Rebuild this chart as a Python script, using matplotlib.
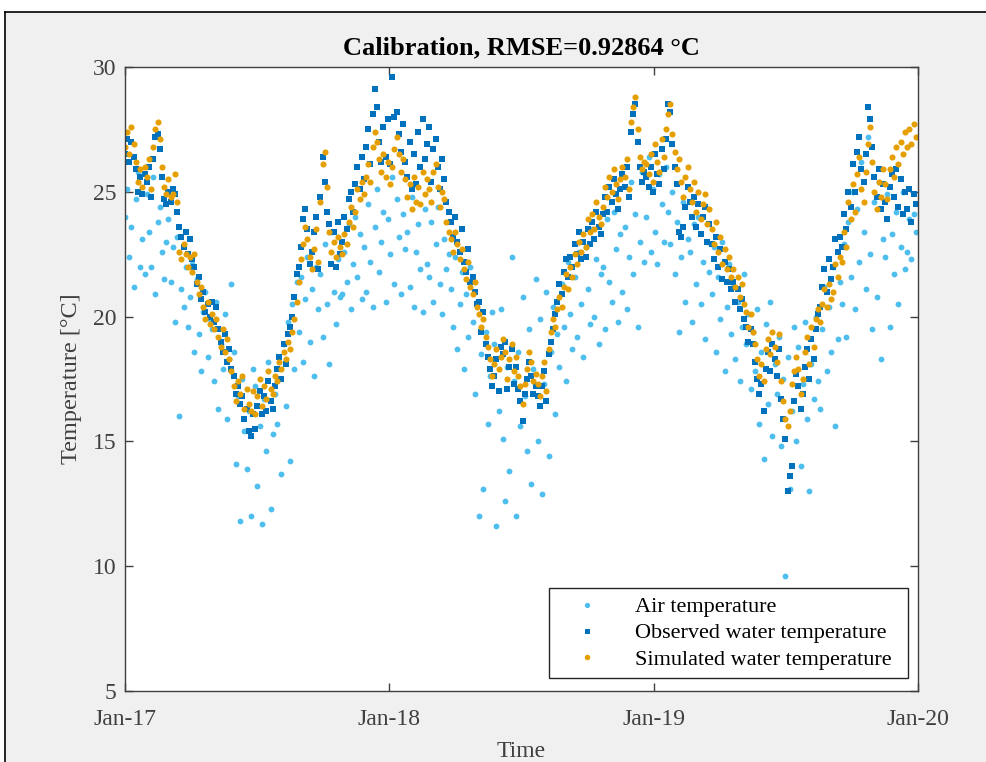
import numpy as np
import matplotlib
matplotlib.use('Agg')
import matplotlib.pyplot as plt
import matplotlib.dates as mdates
from matplotlib.patches import Rectangle
from matplotlib.lines import Line2D

# Samples every 3 days starting 1 Jan 2017 (one line = 30 days)
start_date = '2017-01-01'
step_days = 3

air_temp = [
    24.0, 25.1, 22.4, 23.6, 21.2, 24.7, 25.8, 22.0, 23.1, 21.7,
    24.9, 23.4, 22.0, 25.6, 20.9, 23.8, 24.4, 22.6, 21.5, 23.0,
    23.9, 21.4, 22.8, 19.8, 23.2, 16.0, 21.1, 20.4, 22.0, 19.6,
    20.8, 22.1, 18.6, 21.5, 19.3, 17.8, 20.2, 21.0, 18.4, 19.9,
    19.5, 17.4, 20.6, 16.3, 18.9, 17.9, 20.1, 15.9, 18.3, 21.3,
    18.6, 14.1, 16.8, 11.8, 17.5, 15.4, 13.9, 16.2, 12.0, 17.9,
    17.2, 13.2, 15.6, 11.7, 16.7, 14.6, 18.2, 12.3, 15.3, 16.9,
    15.7, 17.5, 13.7, 18.9, 16.4, 19.8, 14.2, 20.5, 17.9, 21.4,
    19.4, 21.6, 18.2, 20.7, 22.4, 19.0, 21.1, 17.6, 22.0, 20.3,
    21.7, 19.2, 22.9, 20.5, 18.1, 23.4, 21.0, 19.7, 22.3, 20.8,
    20.9, 22.6, 21.4, 23.7, 20.3, 22.1, 24.0, 21.6, 23.3, 20.7,
    22.8, 21.0, 24.5, 22.2, 20.4, 23.6, 25.1, 21.8, 23.0, 24.2,
    20.6, 23.9, 22.5, 25.6, 21.3, 24.7, 23.2, 20.9, 24.1, 22.7,
    23.4, 21.2, 24.8, 20.4, 22.6, 23.7, 21.9, 20.2, 24.3, 22.1,
    21.6, 23.8, 20.6, 22.9, 24.4, 21.3, 20.1, 23.1, 21.9, 22.5,
    21.1, 19.6, 22.4, 18.7, 20.5, 21.8, 17.9, 20.9, 19.2, 22.0,
    19.8, 16.9, 20.6, 12.0, 18.5, 13.1, 19.4, 15.7, 17.6, 20.2,
    18.9, 11.6, 16.2, 20.3, 15.1, 12.6, 18.0, 13.8, 22.4, 17.4,
    12.0, 18.6, 15.6, 20.8, 16.8, 14.6, 19.5, 13.3, 17.9, 21.5,
    15.0, 19.9, 12.9, 17.3, 21.0, 14.4, 18.6, 20.4, 16.1, 19.3,
    18.0, 21.3, 19.6, 17.4, 22.2, 20.1, 18.7, 21.6, 19.2, 22.6,
    20.5, 18.4, 22.8, 21.1, 19.7, 23.5, 20.0, 22.3, 18.9, 21.7,
    22.0, 19.5, 23.9, 21.4, 20.6, 24.2, 22.7, 19.8, 23.3, 21.0,
    23.6, 20.3, 22.4, 25.4, 21.7, 24.1, 19.6, 23.0, 25.8, 22.2,
    24.0, 26.4, 22.6, 25.1, 23.4, 22.1, 25.7, 24.5, 23.0, 26.0,
    24.2, 22.9, 25.0, 21.7, 23.8, 19.4, 22.4, 24.6, 20.6, 23.1,
    22.6, 19.8, 23.7, 21.3, 24.0, 20.5, 22.2, 19.1, 23.0, 21.8,
    20.9, 22.8, 18.6, 21.6, 19.9, 23.0, 17.8, 20.4, 22.1, 19.3,
    21.2, 18.3, 20.6, 17.4, 19.6, 21.7, 18.9, 20.1, 17.1, 19.4,
    17.8, 20.3, 15.7, 18.6, 14.3, 19.7, 16.5, 20.6, 15.2, 18.1,
    16.9, 19.2, 14.8, 17.5, 9.6, 18.4, 13.1, 16.2, 19.6, 15.0,
    18.8, 14.0, 17.3, 19.8, 15.9, 13.0, 18.1, 16.7, 20.0, 17.4,
    16.3, 19.5, 21.2, 17.8, 20.4, 18.6, 22.0, 15.6, 19.1, 21.4,
    20.5, 22.9, 19.2, 23.8, 21.6, 25.0, 20.3, 24.3, 22.2, 26.2,
    23.4, 21.1, 27.2, 22.5, 19.5, 24.6, 20.8, 25.4, 18.3, 23.1,
    22.4, 24.9, 19.6, 23.3, 21.7, 24.2, 20.5, 22.8, 25.0, 21.9,
    22.6, 23.9, 22.3, 24.1, 23.4,
]

observed_temp = [
    26.5, 27.1, 26.2, 27.0, 26.4, 25.9, 25.0, 25.6, 24.9, 25.7,
    25.4, 26.0, 24.8, 26.3, 27.2, 27.3, 26.7, 25.6, 24.7, 24.5,
    25.0, 24.6, 25.1, 24.9, 24.2, 23.6, 23.2, 22.8, 23.4, 22.5,
    23.1, 22.3, 22.0, 21.3, 21.6, 20.7, 21.0, 20.2, 20.5, 20.0,
    20.6, 19.8, 20.4, 19.5, 19.0, 18.6, 19.3, 18.2, 18.7, 17.9,
    17.6, 16.9, 17.2, 16.5, 16.8, 15.9, 16.3, 15.4, 15.2, 16.1,
    15.5, 16.4, 17.0, 16.1, 16.8, 16.2, 17.4, 16.6, 16.3, 17.2,
    17.9, 18.4, 17.5, 18.9, 18.1, 19.3, 19.6, 20.0, 20.8, 21.7,
    22.0, 22.8, 23.9, 24.3, 23.5, 22.1, 22.6, 23.4, 24.0, 21.9,
    24.8, 26.4, 25.4, 24.2, 23.7, 22.1, 23.4, 22.0, 23.8, 22.5,
    23.0, 24.0, 23.5, 24.7, 25.0, 24.2, 25.3, 26.0, 25.1, 26.4,
    25.5, 26.8, 27.5, 26.1, 28.1, 29.1, 28.4, 27.0, 26.2, 27.6,
    26.4, 27.9, 26.1, 29.6, 28.0, 28.2, 27.3, 26.6, 27.7, 26.2,
    25.6, 27.0, 25.1, 26.5, 25.3, 27.4, 26.0, 27.9, 26.3, 26.9,
    27.6, 25.4, 26.7, 27.1, 26.0, 25.1, 26.3, 25.5, 24.6, 24.2,
    23.8, 23.2, 24.0, 23.0, 22.6, 23.5, 22.2, 21.8, 22.7, 21.4,
    21.6, 21.0, 20.5, 20.6, 19.4, 20.2, 18.9, 18.4, 17.9, 17.2,
    17.6, 18.3, 17.0, 18.8, 18.5, 19.0, 17.1, 18.0, 18.7, 17.3,
    18.0, 17.1, 16.6, 15.8, 16.9, 17.5, 18.2, 17.6, 16.9, 17.2,
    16.8, 16.4, 17.2, 17.8, 16.6, 18.5, 19.0, 19.5, 20.1, 20.6,
    21.3, 20.9, 21.8, 22.3, 21.6, 22.4, 22.0, 22.9, 22.5, 23.4,
    22.3, 23.0, 22.4, 23.5, 22.9, 23.8, 23.1, 24.2, 23.6, 23.3,
    24.1, 24.8, 24.2, 25.2, 24.6, 25.5, 24.9, 24.3, 25.1, 25.7,
    25.2, 26.0, 24.8, 27.4, 28.1, 28.5, 27.0, 26.0, 25.4, 25.8,
    25.6, 25.2, 26.0, 25.0, 26.5, 25.7, 25.3, 26.7, 25.9, 27.1,
    28.5, 28.2, 26.9, 26.0, 25.3, 23.4, 23.2, 23.6, 24.4, 25.2,
    24.6, 24.0, 24.8, 23.6, 24.5, 23.3, 24.0, 24.4, 23.0, 23.7,
    22.9, 22.3, 23.2, 22.0, 22.7, 21.5, 22.2, 21.4, 21.9, 21.1,
    21.4, 20.6, 21.1, 20.3, 20.7, 19.9, 19.6, 19.0, 19.5, 18.9,
    18.2, 17.5, 16.9, 17.3, 16.2, 17.9, 18.6, 17.8, 18.9, 18.3,
    17.6, 18.7, 16.7, 15.9, 15.1, 13.0, 13.6, 14.0, 16.6, 17.7,
    17.2, 16.3, 16.9, 18.0, 18.7, 17.5, 19.1, 18.3, 19.5, 20.1,
    20.4, 21.2, 21.9, 21.0, 22.3, 21.5, 22.0, 23.1, 22.6, 23.2,
    22.8, 24.1, 23.5, 25.0, 24.4, 26.1, 25.0, 26.6, 27.2, 25.9,
    25.4, 26.5, 28.4, 27.9, 26.8, 25.6, 24.8, 25.9, 24.3, 25.3,
    24.6, 23.9, 25.2, 25.7, 24.8, 25.9, 24.4, 25.5, 24.1, 25.0,
    24.3, 25.1, 23.8, 24.9, 24.5,
]

simulated_temp = [
    26.8, 27.4, 26.5, 27.6, 26.9, 26.2, 25.4, 25.9, 25.2, 26.0,
    25.6, 26.3, 25.1, 26.8, 27.5, 27.8, 27.1, 26.0, 25.2, 24.9,
    25.5, 24.8, 24.9, 25.7, 24.6, 22.6, 22.3, 22.9, 22.5, 22.0,
    22.4, 21.8, 22.5, 21.4, 20.9, 21.2, 20.4, 19.9, 20.6, 19.7,
    20.1, 19.5, 19.9, 19.2, 18.8, 19.5, 18.6, 19.1, 18.3, 17.8,
    17.2, 16.6, 17.4, 16.9, 17.6, 16.3, 17.1, 16.5, 16.2, 17.0,
    16.1, 16.8, 17.5, 16.4, 17.2, 16.7, 17.8, 17.1, 16.9, 17.6,
    17.4, 18.2, 17.9, 18.6, 18.3, 19.0, 18.7, 19.4, 19.9, 20.6,
    21.4, 22.3, 22.9, 23.6, 23.1, 22.4, 21.9, 22.7, 23.5, 22.2,
    24.6, 26.1, 26.6, 25.2, 23.4, 22.6, 23.0, 22.4, 23.2, 22.8,
    22.5, 23.3, 22.9, 23.8, 24.4, 23.6, 24.2, 25.1, 24.7, 25.4,
    24.9, 25.6, 26.1, 25.4, 26.8, 27.4, 27.0, 26.3, 25.8, 26.5,
    25.6, 26.2, 25.3, 26.0, 26.7, 27.2, 26.5, 25.8, 26.3, 25.5,
    24.8, 25.3, 24.3, 25.6, 24.6, 25.2, 24.5, 25.8, 24.9, 25.5,
    25.1, 24.6, 25.8, 26.1, 25.2, 24.4, 25.0, 24.7, 23.8, 23.4,
    23.1, 22.6, 23.4, 22.9, 22.3, 22.7, 21.9, 21.5, 22.2, 21.2,
    20.9, 21.4, 20.4, 20.1, 19.6, 19.9, 19.2, 18.8, 18.3, 17.6,
    18.1, 18.7, 17.9, 18.4, 19.1, 18.6, 17.5, 18.3, 18.9, 17.8,
    18.4, 17.6, 17.2, 16.5, 17.3, 17.9, 18.6, 18.2, 17.4, 17.7,
    17.3, 16.8, 17.6, 18.2, 17.0, 18.7, 19.4, 19.9, 19.6, 20.3,
    20.8, 20.4, 21.2, 21.7, 21.1, 22.0, 21.6, 22.5, 22.1, 23.0,
    22.6, 23.3, 22.8, 23.9, 23.4, 24.1, 23.5, 24.6, 24.0, 23.7,
    24.4, 25.2, 24.8, 25.6, 25.0, 25.9, 25.3, 24.7, 25.5, 26.0,
    25.6, 26.3, 25.1, 27.8, 28.4, 28.8, 27.5, 26.4, 25.9, 26.2,
    26.1, 25.7, 26.5, 25.4, 26.9, 26.2, 25.8, 27.1, 26.4, 27.5,
    28.1, 28.5, 27.3, 26.6, 25.9, 26.3, 25.4, 24.8, 25.6, 26.0,
    25.1, 24.6, 25.4, 24.2, 25.0, 23.9, 24.5, 24.9, 23.7, 24.3,
    23.5, 22.9, 23.8, 22.6, 23.2, 22.1, 22.7, 21.9, 22.4, 21.6,
    21.9, 21.2, 21.6, 20.8, 21.3, 20.5, 20.2, 19.6, 20.1, 19.4,
    18.9, 18.3, 17.6, 18.1, 17.4, 18.7, 19.1, 18.5, 19.4, 18.8,
    18.2, 19.3, 17.4, 16.6, 15.9, 15.6, 16.2, 17.3, 17.8, 18.4,
    17.9, 16.9, 17.5, 18.6, 19.2, 18.1, 19.6, 18.8, 19.9, 20.3,
    19.8, 20.5, 21.1, 20.4, 21.3, 20.7, 21.0, 22.1, 21.6, 22.4,
    22.2, 23.4, 22.8, 24.6, 23.9, 25.3, 24.2, 25.7, 26.4, 25.1,
    24.6, 25.8, 26.9, 27.6, 26.2, 25.0, 24.3, 25.4, 24.8, 25.9,
    25.3, 24.7, 25.9, 26.4, 25.6, 26.8, 26.1, 27.0, 26.5, 27.4,
    26.8, 27.5, 26.9, 27.7, 27.2,
]

rmse = 0.92864

dates = np.datetime64(start_date) + np.arange(len(air_temp)) * step_days

plt.rcParams['font.family'] = ['Liberation Serif', 'DejaVu Serif']

fig = plt.figure(figsize=(9.87, 7.62), dpi=100, facecolor='white')
# grey figure panel, framed on the top and left only
left_px, top_px = 5 / 987, 1 - 12 / 762
fig.patches.append(Rectangle((left_px, 0), 1 - left_px, top_px,
                             transform=fig.transFigure, facecolor='#f0f0f0',
                             edgecolor='none', zorder=-10))
fig.lines.append(Line2D([left_px, 1], [top_px, top_px], transform=fig.transFigure,
                        color='black', linewidth=1.2))
fig.lines.append(Line2D([left_px, left_px], [0, top_px], transform=fig.transFigure,
                        color='black', linewidth=1.2))

ax = fig.add_axes([0.1266, 0.0932, 0.8034, 0.8189])
ax.set_facecolor('white')

ax.plot(dates, air_temp, linestyle='none', marker='o', markersize=4.2,
        color='#4DBEEE', markeredgewidth=0, label='Air temperature')
ax.plot(dates, observed_temp, linestyle='none', marker='s', markersize=4,
        color='#0072BD', markeredgewidth=0, label='Observed water temperature')
ax.plot(dates, simulated_temp, linestyle='none', marker='o', markersize=4.4,
        color='#E69F00', markeredgewidth=0, label='Simulated water temperature')

ax.set_xlim(np.datetime64('2017-01-01'), np.datetime64('2020-01-01'))
ax.set_ylim(5, 30)
ax.set_yticks([5, 10, 15, 20, 25, 30])
ax.xaxis.set_major_locator(mdates.YearLocator())
ax.xaxis.set_major_formatter(mdates.DateFormatter('%b-%y'))

for side in ax.spines.values():
    side.set_color('#404040')
    side.set_linewidth(1.0)
ax.tick_params(direction='in', length=6, width=1, top=True, right=True,
               labelsize=17, colors='#404040')
ax.tick_params(axis='y', pad=6)
ax.tick_params(axis='x', pad=13)

ax.set_title(f'Calibration, RMSE={rmse} °C', fontsize=19, fontweight='bold', pad=9)
ax.set_xlabel('Time', fontsize=17, color='#404040', labelpad=8)
ax.set_ylabel('Temperature [°C]', fontsize=17.5, color='#404040', labelpad=8)

leg = ax.legend(loc='lower left', bbox_to_anchor=(0.5347, 0.0208, 0.4527, 0.14),
                mode='expand', borderaxespad=0, fontsize=16, frameon=True,
                fancybox=False, edgecolor='#262626', framealpha=1,
                handlelength=2.7, handletextpad=0.8, borderpad=0.38,
                labelspacing=0.25, markerscale=0.9)
leg.get_frame().set_linewidth(1.0)

fig.savefig('out.png', dpi=100, facecolor=fig.get_facecolor())
